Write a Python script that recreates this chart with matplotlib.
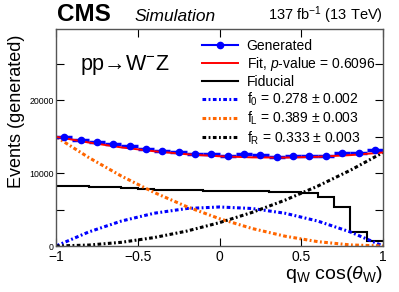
"""
W- Z polarization fit, generated q_W cos(theta_W) distribution.
"""

import numpy as np
import matplotlib
matplotlib.use("Agg")
import matplotlib.pyplot as plt
from matplotlib.lines import Line2D

plt.rcParams['font.family'] = ['Liberation Sans', 'DejaVu Sans']
plt.rcParams['mathtext.fontset'] = 'custom'
plt.rcParams['mathtext.rm'] = 'Liberation Sans'
plt.rcParams['mathtext.it'] = 'Liberation Sans:italic'

# Bins and generated distribution
bin_edges = np.linspace(-1, 1, 21)
bin_centers = 0.5 * (bin_edges[:-1] + bin_edges[1:])
generated = [15030, 14580, 14350, 14070, 13800, 13380, 13070, 12970, 12700, 12700,
             12420, 12650, 12470, 12240, 12380, 12380, 12380, 12750, 12750, 13200]
fiducial = [8300, 8250, 8150, 8050, 7950, 7850, 7750, 7700, 7650, 7600,
            7550, 7500, 7500, 7450, 7450, 7330, 6700, 5410, 1880, 690]

# Fitted polarization components, sampled on a coarse grid
comp_x = [-1.0, -0.8, -0.6, -0.4, -0.2, 0.0, 0.2, 0.4, 0.6, 0.8, 1.0]
f0_curve = [0, 1930, 3430, 4500, 5150, 5360, 5150, 4500, 3430, 1930, 0]
fL_curve = [15000, 12150, 9600, 7350, 5400, 3750, 2400, 1350, 600, 150, 0]
fR_curve = [0, 130, 510, 1160, 2050, 3210, 4620, 6290, 8220, 10400, 12840]
fit_curve = np.array(f0_curve) + np.array(fL_curve) + np.array(fR_curve)

labels = ['Generated', 'Fit, $p$-value = 0.6096', 'Fiducial',
          r'f$_{0}$ = 0.278 $\pm$ 0.002',
          r'f$_{\rm L}$ = 0.389 $\pm$ 0.003',
          r'f$_{\rm R}$ = 0.333 $\pm$ 0.003']

fig = plt.figure(figsize=(3.99, 2.92), dpi=100)
ax = fig.add_axes([0.1404, 0.1575, 0.8196, 0.7432])

dashdot = (0, (1.2, 0.8, 0.6, 0.8))
h_f0, = ax.plot(comp_x, f0_curve, color='#0000ff', lw=2.2, ls=dashdot)
h_fL, = ax.plot(comp_x, fL_curve, color='#ff6600', lw=2.2, ls=dashdot)
h_fR, = ax.plot(comp_x, fR_curve, color='black', lw=2.2, ls=dashdot)
ax.stairs(fiducial, bin_edges, color='black', lw=1.5, baseline=None)
ax.errorbar(bin_centers, generated, xerr=0.05, fmt='o', color='#0000ff',
            ms=4.5, elinewidth=2.5, capsize=0)
h_fit, = ax.plot(comp_x, fit_curve, color='#ff0000', lw=1.4)

gen_handle = Line2D([], [], color='#0000ff', lw=1.5, marker='o', ms=4.5)
fid_handle = Line2D([], [], color='black', lw=1.5)
ax.legend([gen_handle, h_fit, fid_handle, h_f0, h_fL, h_fR], labels,
          loc='upper right', bbox_to_anchor=(1.005, 1.0), frameon=False,
          fontsize=10, handlelength=2.6, handletextpad=0.6, labelspacing=0.14,
          borderaxespad=0.3)

ax.set_xlim(-1, 1)
ax.set_ylim(0, 29800)
ax.set_xticks([-1, -0.5, 0, 0.5, 1])
ax.set_xticklabels(['\u22121', '\u22120.5', '0', '0.5', '1'])
ax.set_yticks([0, 5000, 10000, 15000, 20000, 25000])
ax.set_yticklabels(['0', '', '10000', '', '20000', ''])
ax.tick_params(axis='x', direction='in', top=True, length=6, labelsize=10, pad=3)
ax.tick_params(axis='y', direction='in', right=True, length=6, labelsize=6.3, pad=1.5)
for s in ax.spines.values():
    s.set_color('#555555')
    s.set_linewidth(1.0)

ax.set_ylabel('Events (generated)', fontsize=13)
ax.yaxis.set_label_coords(-0.095, 0.62)
ax.set_xlabel('q$_{\\rm W}$ cos($\\theta_{\\rm W}$)', fontsize=14, loc='right', labelpad=0)

ax.text(0.072, 0.81, 'pp\u2192W$^{-}$Z', transform=ax.transAxes, fontsize=15.5,
        va='baseline')
fig.text(0.143, 0.928, 'CMS', fontsize=17.5, fontweight='bold', va='baseline')
fig.text(0.336, 0.928, 'Simulation', fontsize=12.5, style='italic', va='baseline')
fig.text(0.96, 0.93, r'137 fb$^{-1}$ (13 TeV)', fontsize=10.5, ha='right',
         va='baseline')

fig.savefig('out.png', dpi=100)
plt.close()
